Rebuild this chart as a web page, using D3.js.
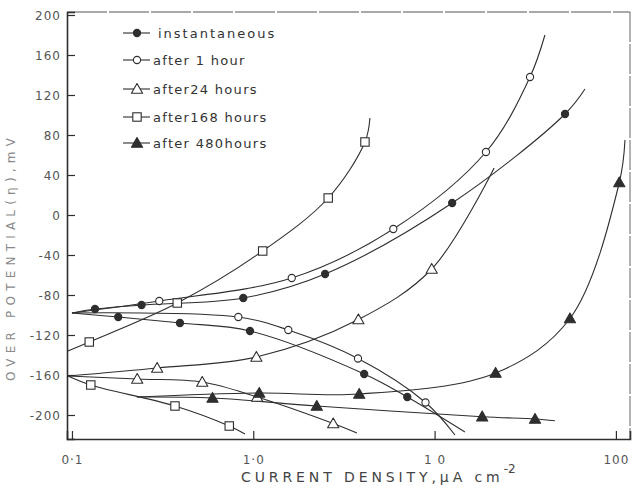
<!DOCTYPE html>
<html>
<head>
<meta charset="utf-8">
<script src="https://cdn.jsdelivr.net/npm/d3@7"></script>
<style>
  html, body { margin: 0; padding: 0; background: #fff; }
  svg { display: block; font-family: "DejaVu Sans", sans-serif; }
</style>
</head>
<body>
<svg id="chart" width="633" height="489"></svg>
<script>
// ── Data: [current density µA/cm², overpotential mV, marker 1/0] ──────────
const instAnodic   = [[0.1,-98,0],[0.134,-94,1],[0.242,-90,1],[0.881,-83,1],[2.49,-59,1],[12.5,12,1],[52.4,101,1],[67.5,126,0]];
const instCathodic = [[0.1,-98,0],[0.180,-102,1],[0.394,-108,1],[0.959,-116,1],[4.09,-159,1],[7.07,-182,1],[14.7,-217,0]];
const h1Anodic     = [[0.1,-98,0],[0.303,-86,1],[1.63,-63,1],[5.92,-14,1],[19.2,63,1],[33.6,138,1],[40.6,180,0]];
const h1Cathodic   = [[0.1,-98,0],[0.827,-102,1],[1.56,-115,1],[3.78,-143.5,1],[8.91,-187.5,1],[12.96,-220,0]];
const h24Anodic    = [[0.095,-161,0],[0.295,-153,1],[1.04,-142,1],[3.80,-104.5,1],[9.64,-54,1],[21.3,47,0]];
const h24Cathodic  = [[0.095,-161,0],[0.229,-164,1],[0.523,-167,1],[1.05,-182,1],[2.76,-208.5,1],[3.73,-218,0]];
const h168Anodic   = [[0.095,-136,0],[0.1246,-127,1],[0.381,-88,1],[1.127,-36,1],[2.59,17,1],[4.13,73,1],[4.40,97,0]];
const h168Cathodic = [[0.095,-161,0],[0.127,-170,1],[0.370,-191,1],[0.737,-211,1],[0.90,-219,0]];
const h480Anodic   = [[0.228,-182,0],[1.079,-178,1],[3.84,-179,1],[21.7,-158,1],[55.8,-103.5,1],[104.4,32.5,1],[112.2,75,0]];
const h480Cathodic = [[0.228,-182,0],[0.596,-183,1],[2.24,-191,1],[18.3,-201.7,1],[35.8,-204,1],[46.1,-205.7,0]];

const seriesNames = ['instantaneous', 'after 1 hour', 'after24 hours', 'after168 hours', 'after 480hours'];
const seriesMarks = ['filledCircle', 'openCircle', 'openTriangle', 'openSquare', 'filledTriangle'];
const seriesData  = [
  [instAnodic, instCathodic],
  [h1Anodic, h1Cathodic],
  [h24Anodic, h24Cathodic],
  [h168Anodic, h168Cathodic],
  [h480Anodic, h480Cathodic]
];

const yTicks = [-200, -160, -120, -80, -40, 0, 40, 80, 120, 160, 200];
const xTicks = [0.1, 1, 10, 100];
const xTickLabels = ['0·1', '1·0', '1 0', '100'];

// ── Setup ────────────────────────────────────────────────────────────────
const svg = d3.select('#chart');
const ink = '#2e2e2e';
const L = 67, R = 630, T = 12, B = 439;

const x = d3.scaleLog().domain([0.0939, 119.6]).range([L, R]);
const y = d3.scaleLinear().domain([-224, 203]).range([B, T]);

// frame (top/right lighter, like the scan)
svg.append('line').attr('x1', L).attr('x2', R).attr('y1', T).attr('y2', T)
  .attr('stroke', '#555').attr('stroke-width', 1).attr('stroke-dasharray', '40,2');
svg.append('line').attr('x1', R).attr('x2', R).attr('y1', T).attr('y2', B)
  .attr('stroke', '#666').attr('stroke-width', 1).attr('stroke-dasharray', '30,2');

// axes
const yAxis = d3.axisLeft(y).tickValues(yTicks).tickSize(-8).tickPadding(6)
  .tickFormat(d => String(d));
const gy = svg.append('g').attr('transform', `translate(${L},0)`).call(yAxis);

const xAxis = d3.axisBottom(x).tickValues(xTicks).tickSize(-8).tickPadding(16)
  .tickFormat((d, i) => xTickLabels[i]);
const gx = svg.append('g').attr('transform', `translate(0,${B})`).call(xAxis);

[gx, gy].forEach(g => {
  g.select('.domain').attr('stroke', ink).attr('stroke-width', 1.6);
  g.selectAll('.tick line').attr('stroke', ink).attr('stroke-width', 1.2);
  g.selectAll('.tick text').attr('fill', '#555').attr('font-size', 12)
    .attr('letter-spacing', 1).attr('font-family', '"DejaVu Sans", sans-serif');
});
gy.selectAll('.tick text').attr('dy', '0.35em');

// axis titles
svg.append('text')
  .attr('transform', `translate(15,257) rotate(-90)`)
  .attr('text-anchor', 'middle')
  .attr('font-size', 12).attr('letter-spacing', 5.2)
  .attr('fill', '#8a8a8a')
  .text('OVER POTENTIAL(η),mV');

const xt = svg.append('text')
  .attr('x', 241).attr('y', 482)
  .attr('font-size', 14).attr('letter-spacing', 3.9)
  .attr('fill', '#444');
xt.append('tspan').text('CURRENT DENSITY,μA cm');
xt.append('tspan').attr('dy', -9).attr('font-size', 12).attr('letter-spacing', 0).text('-2');

// ── Curves ───────────────────────────────────────────────────────────────
const line = d3.line()
  .x(d => x(d[0])).y(d => y(d[1]))
  .curve(d3.curveCatmullRom.alpha(0.5));

const curvesG = svg.append('g');
seriesData.forEach(branches => {
  branches.forEach(b => {
    curvesG.append('path').attr('d', line(b))
      .attr('fill', 'none').attr('stroke', ink).attr('stroke-width', 1.1);
  });
});

// ── Markers ──────────────────────────────────────────────────────────────
function drawMark(g, kind, cx, cy) {
  if (kind === 'filledCircle' || kind === 'openCircle') {
    g.append('circle').attr('cx', cx).attr('cy', cy).attr('r', 3.6)
      .attr('fill', kind === 'filledCircle' ? ink : '#fff')
      .attr('stroke', ink).attr('stroke-width', 1.1);
  } else if (kind === 'openSquare') {
    g.append('rect').attr('x', cx - 4.2).attr('y', cy - 4.2)
      .attr('width', 8.4).attr('height', 8.4)
      .attr('fill', '#fff').attr('stroke', ink).attr('stroke-width', 1.1);
  } else {
    const s = 5.6;
    g.append('path')
      .attr('d', `M${cx},${cy - s}L${cx + s},${cy + s * 0.75}L${cx - s},${cy + s * 0.75}Z`)
      .attr('fill', kind === 'filledTriangle' ? ink : '#fff')
      .attr('stroke', ink).attr('stroke-width', 1.1).attr('stroke-linejoin', 'round');
  }
}

const marksG = svg.append('g');
seriesData.forEach((branches, si) => {
  branches.forEach(b => {
    b.filter(d => d[2]).forEach(d => drawMark(marksG, seriesMarks[si], x(d[0]), y(d[1])));
  });
});

// ── Legend ───────────────────────────────────────────────────────────────
const legendY = [33, 60, 89, 117, 143];
const legG = svg.append('g');
seriesNames.forEach((name, i) => {
  const ly = legendY[i];
  legG.append('line').attr('x1', 123).attr('x2', 150).attr('y1', ly).attr('y2', ly)
    .attr('stroke', ink).attr('stroke-width', 1.1);
  drawMark(legG, seriesMarks[i], 137, ly);
  legG.append('text').attr('x', i === 0 ? 158 : 153).attr('y', ly).attr('dy', '0.35em')
    .attr('font-size', 13).attr('letter-spacing', i === 0 ? 2 : 1.3).attr('fill', '#333')
    .text(name);
});
</script>
</body>
</html>
